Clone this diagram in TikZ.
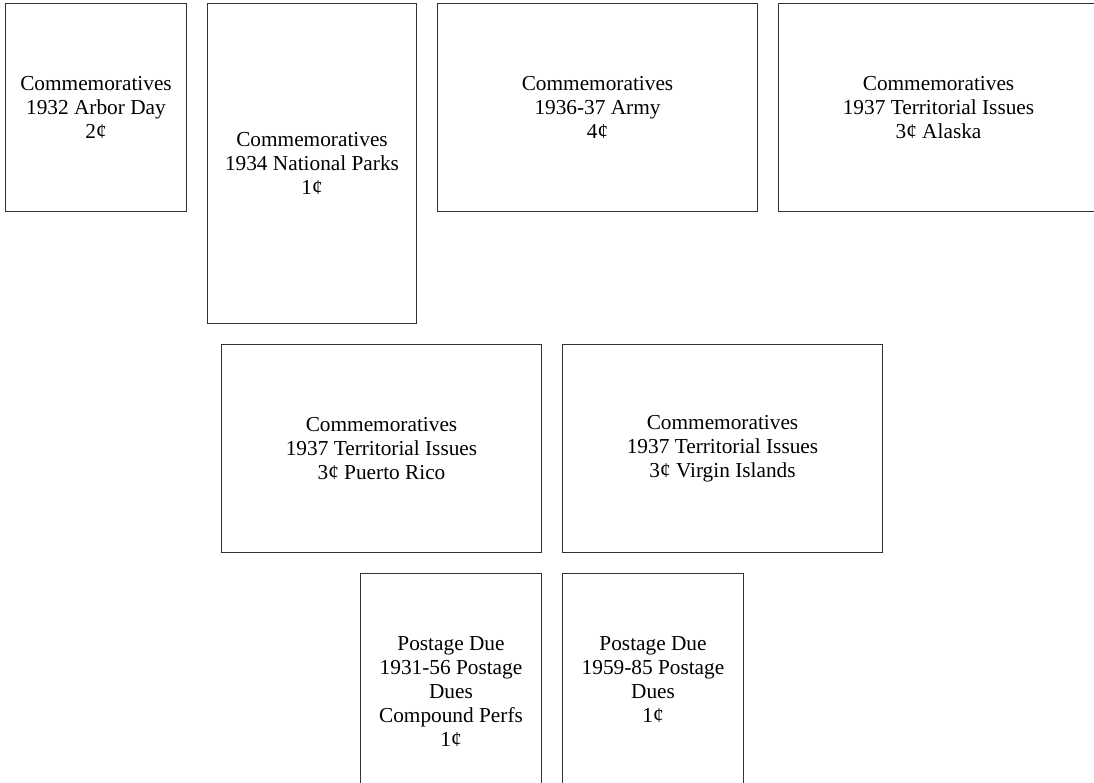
\documentclass[tikz,border=0pt]{standalone}
\usepackage{fontspec}
\setmainfont{Liberation Serif}
\usetikzlibrary{positioning}
\tikzset{stamp/.style={draw=black!80, line width=1pt, inner sep=0pt, align=center, font=\fontsize{21.3}{24}\selectfont},
  small/.style={minimum width=181pt, minimum height=208pt},
  tall/.style={minimum width=209pt, minimum height=320pt},
  wide/.style={minimum width=320pt, minimum height=208pt}}

\begin{document}
\begin{tikzpicture}[x=1pt, y=-1pt, node distance=20pt]
\useasboundingbox (0,0) rectangle (1094,782);
\clip (0,0) rectangle (1094,782);
% top row
\node[stamp, small, anchor=north west] (arbor) at (5,3) {Commemoratives\\1932 Arbor Day\\2¢};
\node[stamp, tall, right=of arbor.north east, anchor=north west] (parks) {Commemoratives\\1934 National Parks\\1¢};
\node[stamp, wide, right=of parks.north east, anchor=north west] (army) {Commemoratives\\1936-37 Army\\4¢};
\node[stamp, wide, right=of army.north east, anchor=north west] (alaska) {Commemoratives\\1937 Territorial Issues\\3¢ Alaska};
% middle row
\node[stamp, wide, below=of parks.south west, anchor=north west, xshift=14pt] (prico) {Commemoratives\\1937 Territorial Issues\\3¢ Puerto Rico};
\node[stamp, wide, right=of prico] (virgin) {Commemoratives\\1937 Territorial Issues\\3¢ Virgin Islands};
% postage dues
\node[stamp, small, minimum height=236pt, below=of prico.south east, anchor=north east] (dueA) {Postage Due\\1931-56 Postage\\Dues\\Compound Perfs\\1¢};
\node[stamp, small, minimum height=212pt, right=of dueA.north east, anchor=north west] (dueB) {Postage Due\\1959-85 Postage\\Dues\\1¢};
\end{tikzpicture}
\end{document}
